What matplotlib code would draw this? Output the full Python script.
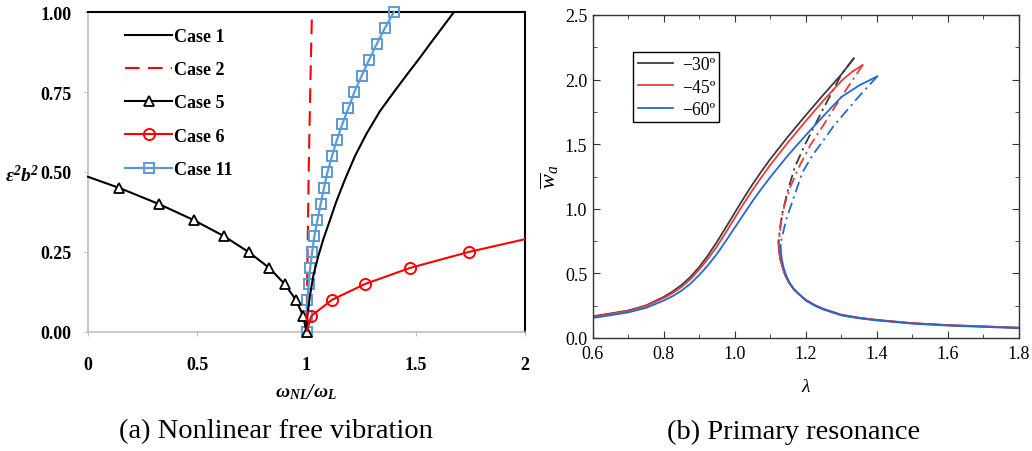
import matplotlib
matplotlib.use("Agg")
import matplotlib.pyplot as plt
from matplotlib.ticker import MultipleLocator

plt.rcParams['font.family'] = ['Liberation Serif', 'DejaVu Serif']
plt.rcParams['mathtext.fontset'] = 'custom'
plt.rcParams['mathtext.rm'] = 'Liberation Serif'
plt.rcParams['mathtext.it'] = 'Liberation Serif:italic'
plt.rcParams['mathtext.bf'] = 'Liberation Serif:bold:italic'

# ---- (a) nonlinear free vibration: eps^2 b^2 vs omega_NL/omega_L ----
case1_x = [1.0, 1.004, 1.015, 1.031, 1.053, 1.077, 1.105, 1.135, 1.175, 1.222, 1.275,
           1.336, 1.40, 1.466, 1.52, 1.565, 1.62, 1.675]
case1_y = [0.0, 0.05, 0.11, 0.175, 0.235, 0.29, 0.345, 0.405, 0.475, 0.55, 0.62,
           0.69, 0.75, 0.81, 0.858, 0.9, 0.95, 1.0]

case2_x = [1.0, 1.005, 1.01, 1.017, 1.025]
case2_y = [0.0, 0.25, 0.5, 0.75, 1.0]

case5_x = [0.0, 0.144, 0.324, 0.483, 0.621, 0.735, 0.830, 0.900, 0.952, 0.985, 1.0]
case5_y = [0.485, 0.45, 0.40, 0.35, 0.30, 0.25, 0.20, 0.15, 0.10, 0.05, 0.0]

case6_x = [1.0, 1.022, 1.115, 1.268, 1.473, 1.742, 2.0]
case6_y = [0.0, 0.05, 0.10, 0.15, 0.20, 0.25, 0.29]

case11_x = [1.0, 1.0, 1.004, 1.01, 1.017, 1.026, 1.036, 1.05, 1.065, 1.08, 1.096,
            1.117, 1.139, 1.164, 1.192, 1.219, 1.252, 1.286, 1.321, 1.359, 1.40]
case11_y = [0.0, 0.05, 0.10, 0.15, 0.20, 0.25, 0.30, 0.35, 0.40, 0.45, 0.50,
            0.55, 0.60, 0.65, 0.70, 0.75, 0.80, 0.85, 0.90, 0.95, 1.0]

# ---- (b) primary resonance: amplitude vs lambda ----
lam_up_30 = [0.6, 0.65, 0.7, 0.75, 0.8, 0.825, 0.85, 0.875, 0.9, 0.925, 0.95, 0.975, 1.0,
             1.025, 1.05, 1.075, 1.1, 1.15, 1.2, 1.25, 1.3, 1.335]
w_up_30 = [0.168, 0.19, 0.213, 0.252, 0.318, 0.36, 0.41, 0.472, 0.55, 0.642, 0.745, 0.857, 0.97,
           1.082, 1.19, 1.29, 1.385, 1.56, 1.725, 1.885, 2.04, 2.165]
lam_mid_30 = [1.335, 1.3, 1.25, 1.2, 1.17, 1.15, 1.135, 1.127, 1.123]
w_mid_30 = [2.165, 2.04, 1.78, 1.51, 1.33, 1.15, 0.98, 0.85, 0.74]
lam_low_30 = [1.123, 1.124, 1.128, 1.134, 1.141, 1.152, 1.165, 1.18, 1.2, 1.225, 1.25, 1.3,
              1.35, 1.4, 1.5, 1.6, 1.7, 1.8]
w_low_30 = [0.74, 0.68, 0.61, 0.55, 0.49, 0.43, 0.38, 0.34, 0.295, 0.255, 0.225, 0.18,
            0.157, 0.14, 0.115, 0.1, 0.09, 0.08]

lam_up_45 = [0.6, 0.65, 0.7, 0.75, 0.8, 0.825, 0.85, 0.875, 0.9, 0.925, 0.95, 0.975, 1.0,
             1.025, 1.05, 1.075, 1.1, 1.15, 1.2, 1.25, 1.3, 1.33, 1.36]
w_up_45 = [0.165, 0.186, 0.209, 0.247, 0.31, 0.348, 0.395, 0.455, 0.53, 0.615, 0.71, 0.818, 0.93,
           1.04, 1.145, 1.245, 1.34, 1.515, 1.68, 1.84, 1.99, 2.06, 2.113]
lam_mid_45 = [1.36, 1.33, 1.296, 1.25, 1.212, 1.18, 1.155, 1.14, 1.132, 1.127, 1.124]
w_mid_45 = [2.113, 1.99, 1.85, 1.65, 1.49, 1.32, 1.16, 1.03, 0.93, 0.82, 0.73]
lam_low_45 = [1.124, 1.125, 1.129, 1.135, 1.142, 1.153, 1.166, 1.181, 1.2, 1.225, 1.25, 1.3,
              1.35, 1.4, 1.5, 1.6, 1.7, 1.8]
w_low_45 = [0.73, 0.67, 0.605, 0.545, 0.487, 0.428, 0.378, 0.338, 0.293, 0.253, 0.223, 0.178,
            0.155, 0.139, 0.114, 0.099, 0.089, 0.079]

lam_up_60 = [0.6, 0.65, 0.7, 0.75, 0.8, 0.825, 0.85, 0.875, 0.9, 0.925, 0.95, 0.975, 1.0,
             1.025, 1.05, 1.075, 1.1, 1.15, 1.2, 1.25, 1.3, 1.35, 1.401]
w_up_60 = [0.155, 0.176, 0.198, 0.233, 0.29, 0.324, 0.366, 0.42, 0.488, 0.565, 0.652, 0.752, 0.855,
           0.958, 1.06, 1.155, 1.245, 1.415, 1.57, 1.72, 1.865, 1.955, 2.025]
lam_mid_60 = [1.401, 1.343, 1.278, 1.249, 1.22, 1.19, 1.165, 1.145, 1.132, 1.129]
w_mid_60 = [2.025, 1.85, 1.64, 1.527, 1.42, 1.28, 1.08, 0.92, 0.77, 0.72]
lam_low_60 = [1.129, 1.13, 1.133, 1.138, 1.145, 1.155, 1.168, 1.183, 1.2, 1.225, 1.25, 1.3,
              1.35, 1.4, 1.5, 1.6, 1.7, 1.8]
w_low_60 = [0.72, 0.66, 0.6, 0.54, 0.482, 0.424, 0.374, 0.334, 0.29, 0.25, 0.22, 0.175,
            0.152, 0.136, 0.111, 0.096, 0.086, 0.076]

angle_labels = ['\u221230\u00ba', '\u221245\u00ba', '\u221260\u00ba']
angle_colors = ['#3c3c3c', '#ec3b3b', '#2468d8']

fig = plt.figure(figsize=(10.32, 4.52), dpi=100)

# ================= panel (a) =================
ax1 = fig.add_axes([88 / 1032, 119 / 452, 437 / 1032, 320 / 452])
ax1.plot(case2_x, case2_y, color='#ff0000', lw=1.5, dashes=(7, 4), label='Case 2', zorder=2)
ax1.plot(case11_x, case11_y, color='#5b9bd5', lw=1.6, marker='s', ms=7, mfc='none',
         mew=1.4, label='Case 11', clip_on=False, zorder=3)
ax1.plot(case1_x, case1_y, color='black', lw=1.5, label='Case 1', zorder=4)
ax1.plot(case5_x, case5_y, color='black', lw=1.5, marker='^', ms=7, mfc='white',
         mew=1.3, markevery=list(range(1, len(case5_x))), label='Case 5', clip_on=False, zorder=4)
ax1.plot(case6_x, case6_y, color='#ff0000', lw=1.5, marker='o', ms=8, mfc='none',
         mew=1.4, markevery=list(range(1, len(case6_x) - 1)), label='Case 6', zorder=4)

ax1.set_xlim(0, 2)
ax1.set_ylim(0, 1)
ax1.set_xticks([0, 0.5, 1, 1.5, 2])
ax1.set_xticklabels(['0', '0.5', '1', '1.5', '2'])
ax1.set_yticks([0, 0.25, 0.5, 0.75, 1.0])
ax1.set_yticklabels(['0.00', '0.25', '0.50', '0.75', '1.00'])
ax1.tick_params(axis='both', direction='out', length=3, color='#bfbfbf', labelsize=13)
ax1.tick_params(axis='x', pad=14)
ax1.tick_params(axis='y', pad=9)
for lbl in ax1.get_xticklabels() + ax1.get_yticklabels():
    lbl.set_fontweight('bold')
for side in ['left', 'bottom']:
    ax1.spines[side].set_color('#bfbfbf')
    ax1.spines[side].set_linewidth(1.2)
for side in ['top', 'right']:
    ax1.spines[side].set_color('black')
    ax1.spines[side].set_linewidth(1.5)

h, l = ax1.get_legend_handles_labels()
order = [l.index(n) for n in ['Case 1', 'Case 2', 'Case 5', 'Case 6', 'Case 11']]
ax1.legend([h[i] for i in order], [l[i] for i in order], loc='upper left',
           bbox_to_anchor=(0.085, 0.95), frameon=False, numpoints=1,
           handlelength=2.6, handletextpad=0.1, labelspacing=0.9,
           borderaxespad=0, borderpad=0, prop={'weight': 'bold', 'size': 13})

fig.text(22 / 1032, 1 - 175 / 452, r'$\mathbf{\varepsilon^2b^2}$', fontsize=14,
         ha='center', va='center')
fig.text(306 / 1032, 1 - 392 / 452, r'$\mathbf{\omega_{NL}/\omega_{L}}$', fontsize=14,
         ha='center', va='center')

# ================= panel (b) =================
ax2 = fig.add_axes([592.7 / 1032, 113 / 452, 426.3 / 1032, 323 / 452])
branches = [
    (lam_up_30, w_up_30, lam_mid_30, w_mid_30, lam_low_30, w_low_30),
    (lam_up_45, w_up_45, lam_mid_45, w_mid_45, lam_low_45, w_low_45),
    (lam_up_60, w_up_60, lam_mid_60, w_mid_60, lam_low_60, w_low_60),
]
for (lu, wu, lm, wm, ll, wl), lab, col in zip(branches, angle_labels, angle_colors):
    ax2.plot(lu, wu, color=col, lw=1.3, label=lab)
    ax2.plot(lm, wm, color=col, lw=1.3, dashes=(6, 2.5, 1.2, 2.5))
    ax2.plot(ll, wl, color=col, lw=1.3)

ax2.set_xlim(0.6, 1.8)
ax2.set_ylim(0, 2.5)
ax2.xaxis.set_major_locator(MultipleLocator(0.2))
ax2.xaxis.set_minor_locator(MultipleLocator(0.1))
ax2.yaxis.set_major_locator(MultipleLocator(0.5))
ax2.yaxis.set_minor_locator(MultipleLocator(0.25))
ax2.tick_params(which='both', direction='in', top=True, right=True, color='#333333')
ax2.tick_params(which='major', length=5, labelsize=13)
ax2.tick_params(which='minor', length=3)
ax2.tick_params(axis='x', pad=5)
ax2.tick_params(axis='y', pad=4)
for sp in ax2.spines.values():
    sp.set_color('#333333')
    sp.set_linewidth(1.0)

leg = ax2.legend(loc='upper left', bbox_to_anchor=(0.095, 0.886), fontsize=12.7,
                 frameon=True, fancybox=False, edgecolor='black', framealpha=1,
                 handlelength=2.0, handletextpad=0.5, labelspacing=0.3,
                 borderpad=0.25, borderaxespad=0)
leg.get_frame().set_linewidth(1.0)

fig.text(550 / 1032, 1 - 177 / 452, r'$\overline{w}_a$', fontsize=16, rotation=90,
         ha='center', va='center')
fig.text(806 / 1032, 1 - 388 / 452, r'$\lambda$', fontsize=14, ha='center', va='center')

# captions
fig.text(276 / 1032, 1 - 432 / 452, '(a) Nonlinear free vibration', fontsize=20.5,
         ha='center', va='center')
fig.text(794 / 1032, 1 - 432 / 452, '(b) Primary resonance', fontsize=20.5,
         ha='center', va='center')

fig.savefig('out.png', dpi=100)
plt.close(fig)
